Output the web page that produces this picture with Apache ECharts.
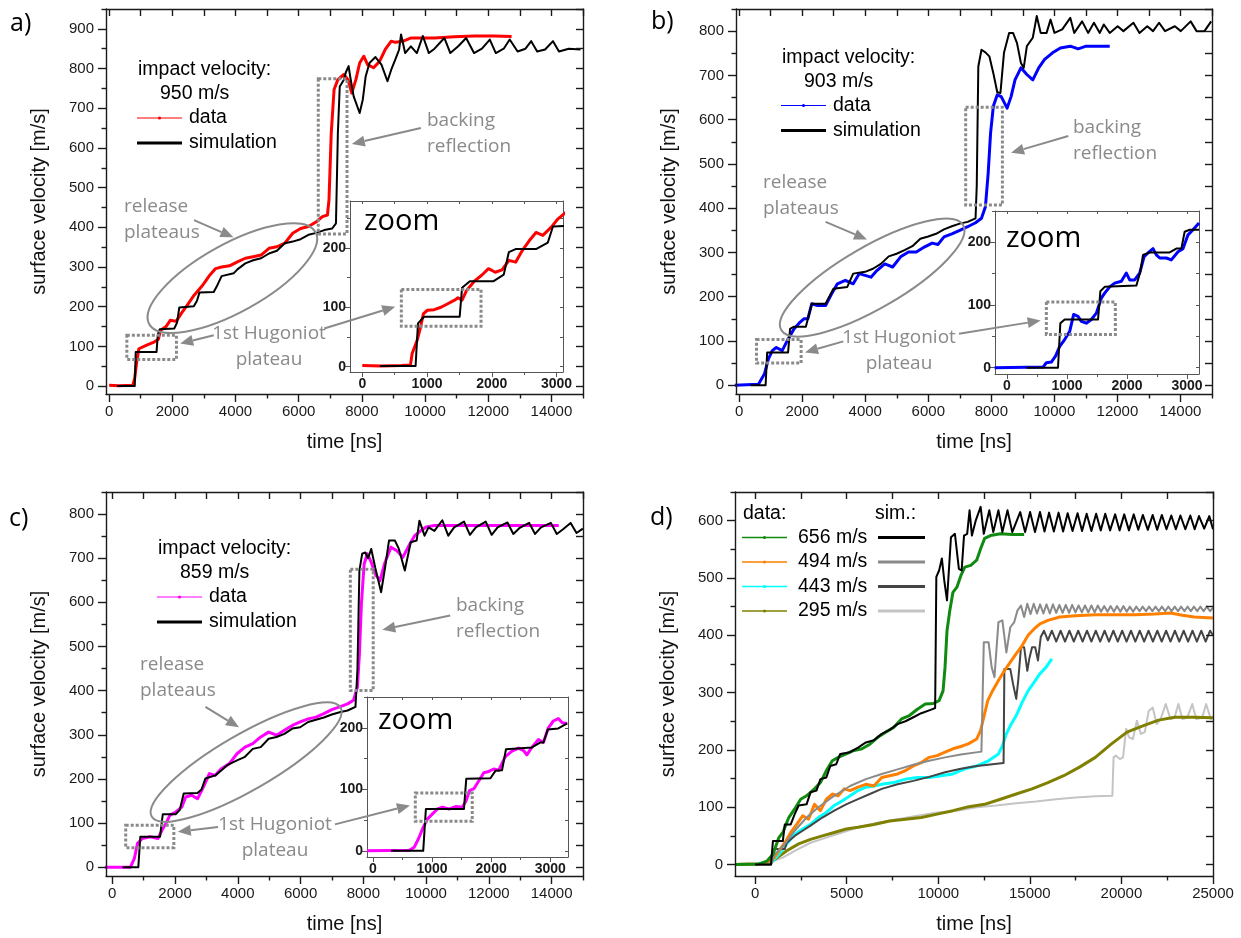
<!DOCTYPE html>
<html>
<head>
<meta charset="utf-8">
<script src="https://cdn.jsdelivr.net/npm/echarts@6.0.0/dist/echarts.min.js"></script>
<style>
  html, body { margin: 0; padding: 0; background: #fff; }
  #chart { width: 1241px; height: 938px; }
</style>
</head>
<body>
<div id="chart"></div>
<script>
// ---- tick values ----
var xMaj14 = [0, 2000, 4000, 6000, 8000, 10000, 12000, 14000];
var xMin14 = [1000, 3000, 5000, 7000, 9000, 11000, 13000, 15000];
var yMaj900 = [0, 100, 200, 300, 400, 500, 600, 700, 800, 900];
var yMin900 = [50, 150, 250, 350, 450, 550, 650, 750, 850, 950];
var yMaj800 = [0, 100, 200, 300, 400, 500, 600, 700, 800];
var yMin800 = [50, 150, 250, 350, 450, 550, 650, 750, 850];
var xMaj25 = [0, 5000, 10000, 15000, 20000, 25000];
var xMin25 = [2500, 7500, 12500, 17500, 22500];
var yMaj600 = [0, 100, 200, 300, 400, 500, 600];
var yMin600 = [50, 150, 250, 350, 450, 550, 650];
var xMajZoom = [0, 1000, 2000, 3000];
var xMinZoom = [500, 1500, 2500];
var yMajZoom = [0, 100, 200];
var yMinZoom = [50, 150, 250];

// ---- panel a: 950 m/s ----
var aData = [[0,2],[300,1],[750,2],[810,20],[870,60],[940,94],[1000,96],[1190,103],[1400,110],[1560,118],[1620,140],[1800,150],[1940,166],[2120,163],[2300,185],[2440,200],[2690,229],[2940,252],[3190,280],[3370,296],[3560,300],[3810,303],[4060,313],[4310,322],[4560,326],[4810,330],[5060,347],[5310,351],[5560,360],[5810,385],[6060,397],[6310,402],[6560,414],[6750,427],[6910,431],[6960,470],[7030,637],[7120,747],[7240,772],[7430,785],[7560,772],[7680,738],[7810,772],[7930,814],[8060,831],[8180,810],[8370,802],[8560,818],[8740,848],[8930,869],[9060,866],[9310,869],[9560,877],[10300,877],[10930,880],[11550,882],[12180,882],[12740,881]];
var aSim = [[250,0],[810,0],[840,86],[1500,86],[1540,130],[1600,143],[2060,145],[2150,160],[2220,198],[2680,201],[2780,215],[2860,236],[3310,237],[3400,250],[3560,277],[3940,284],[4060,294],[4310,309],[4560,317],[4810,322],[5060,334],[5310,341],[5560,360],[5810,364],[6060,370],[6310,381],[6560,386],[6810,393],[7060,397],[7180,410],[7240,637],[7300,755],[7430,772],[7490,790],[7580,806],[7630,780],[7740,730],[7930,688],[8030,722],[8120,780],[8240,814],[8430,829],[8620,810],[8810,768],[8930,797],[9060,823],[9180,848],[9240,886],[9370,839],[9550,856],[9740,839],[9930,882],[10120,839],[10300,850],[10610,877],[10800,839],[11050,856],[11300,877],[11550,839],[11800,850],[12050,873],[12240,839],[12490,850],[12680,873],[12930,843],[13180,850],[13360,869],[13550,843],[13800,848],[14050,869],[14240,843],[14550,850],[14920,848]];
var aZoomData = [[0,2],[300,1],[600,2],[744,3],[770,22],[849,45],[901,67],[943,89],[1006,95],[1111,96],[1216,100],[1320,106],[1425,112],[1478,116],[1541,112],[1609,128],[1740,145],[1844,154],[1949,165],[2054,159],[2159,163],[2264,179],[2368,176],[2473,196],[2578,212],[2683,226],[2788,221],[2919,235],[3023,249],[3144,260]];
var aZoomSim = [[272,1],[823,1],[860,73],[954,84],[1504,84],[1541,133],[1661,144],[2028,144],[2185,155],[2264,193],[2368,198],[2683,198],[2866,209],[2945,236],[3144,237]];

// ---- panel b: 903 m/s ----
var bData = [[-138,0],[613,2],[801,25],[926,59],[1052,78],[1177,85],[1365,78],[1552,104],[1740,127],[1928,142],[2053,150],[2178,150],[2304,184],[2491,180],[2742,180],[2930,206],[3117,229],[3368,237],[3618,229],[3806,252],[3994,248],[4182,244],[4369,259],[4620,274],[4870,267],[5121,290],[5371,301],[5621,301],[5872,312],[6122,321],[6310,318],[6498,335],[6748,342],[6999,350],[7249,358],[7499,367],[7687,377],[7812,403],[7900,479],[7975,569],[8063,630],[8188,656],[8313,652],[8501,626],[8626,652],[8751,690],[8939,717],[9127,702],[9315,690],[9503,717],[9690,736],[9941,751],[10191,762],[10504,766],[10755,760],[11005,766],[11381,766],[11756,766]];
var bSim = [[363,0],[839,0],[889,74],[1552,74],[1615,127],[1740,132],[2116,132],[2304,184],[2742,184],[2992,218],[3430,222],[3618,252],[3994,256],[4244,263],[4495,274],[4745,291],[4995,297],[5246,305],[5496,314],[5747,331],[5997,336],[6247,342],[6498,352],[6748,359],[6999,365],[7249,369],[7499,377],[7537,450],[7587,720],[7687,758],[7812,752],[7937,743],[8063,705],[8188,662],[8288,660],[8401,751],[8564,796],[8689,796],[8814,773],[8939,728],[9027,717],[9127,766],[9315,785],[9440,834],[9565,796],[9753,796],[9878,826],[10003,796],[10250,804],[10504,830],[10630,796],[10880,822],[11070,796],[11255,819],[11440,796],[11568,815],[11756,796],[12007,811],[12190,800],[12507,819],[12700,796],[12946,811],[13130,800],[13321,819],[13510,800],[13822,811],[14010,800],[14323,822],[14510,800],[14760,800],[14974,822]];
var bZoomData = [[-206,0],[600,1],[656,8],[739,9],[811,19],[878,34],[961,45],[1045,58],[1111,85],[1183,82],[1239,74],[1322,71],[1406,77],[1489,87],[1572,111],[1628,119],[1711,129],[1795,135],[1906,138],[1989,151],[2045,140],[2128,140],[2211,151],[2284,177],[2350,183],[2434,190],[2489,180],[2545,175],[2656,175],[2739,172],[2850,185],[2934,190],[3017,212],[3100,220],[3200,231]];
var bZoomSim = [[322,0],[850,0],[889,71],[961,77],[1517,77],[1556,122],[1628,129],[2156,131],[2222,153],[2267,180],[2378,184],[2711,184],[2822,190],[2906,190],[2961,217],[3045,220],[3200,220]];

// ---- panel c: 859 m/s ----
var cData = [[-239,0],[579,0],[704,20],[805,54],[956,65],[1208,69],[1459,65],[1585,84],[1711,99],[1837,118],[2025,125],[2214,136],[2340,159],[2529,163],[2717,155],[2906,182],[3095,212],[3283,208],[3472,223],[3724,234],[3975,257],[4227,272],[4478,280],[4730,295],[4982,306],[5233,299],[5485,310],[5736,321],[5988,329],[6240,336],[6491,340],[6743,348],[6994,357],[7246,363],[7498,370],[7686,378],[7812,408],[7875,483],[7938,596],[8026,687],[8127,710],[8252,691],[8378,664],[8529,649],[8693,691],[8881,725],[9070,717],[9259,702],[9448,728],[9636,751],[9825,762],[10014,771],[10265,774],[10894,774],[11523,774],[12152,774],[12781,774],[13410,774],[14228,774]];
var cSim = [[327,0],[830,0],[893,69],[1522,69],[1610,120],[2025,120],[2151,130],[2277,167],[2717,168],[2843,176],[2969,201],[3283,208],[3472,219],[3661,231],[3975,242],[4227,250],[4478,268],[4730,272],[4982,291],[5233,295],[5485,302],[5736,314],[5988,317],[6240,329],[6491,334],[6743,339],[6994,346],[7246,351],[7498,355],[7749,363],[7812,446],[7875,672],[7963,710],[8064,713],[8152,700],[8252,721],[8378,679],[8567,623],[8693,679],[8818,740],[9007,740],[9133,721],[9322,672],[9510,736],[9699,740],[9787,785],[9951,751],[10077,770],[10265,762],[10517,786],[10706,751],[10894,770],[11209,783],[11397,753],[11586,770],[11901,783],[12089,753],[12278,770],[12593,781],[12781,755],[12970,768],[13284,780],[13473,755],[13662,770],[13976,780],[14165,755],[14354,765],[14606,780],[14794,757],[14995,767]];
var cZoomData = [[-100,0],[616,1],[700,6],[773,20],[840,36],[924,52],[1008,60],[1092,68],[1176,71],[1288,68],[1400,72],[1512,71],[1579,82],[1635,98],[1708,101],[1792,114],[1876,127],[1960,129],[2044,133],[2128,131],[2240,153],[2352,162],[2464,167],[2548,163],[2604,156],[2688,168],[2800,181],[2884,176],[2968,200],[3052,211],[3136,215],[3203,208],[3287,207]];
var cZoomSim = [[308,0],[851,0],[896,68],[1540,68],[1579,117],[1988,118],[2072,130],[2184,131],[2251,165],[2688,168],[2828,176],[2884,176],[2957,197],[3136,199],[3287,207]];

// ---- panel d ----
var d656Data = [[-1080,0],[216,1],[648,6],[972,18],[1296,47],[1512,56],[1836,82],[2160,97],[2484,114],[2808,120],[3240,132],[3564,143],[3888,164],[4212,181],[4536,187],[4968,193],[5400,199],[5832,202],[6264,210],[6696,222],[7128,231],[7560,239],[7992,254],[8424,260],[8856,271],[9288,280],[9720,281],[10044,286],[10260,303],[10368,344],[10476,408],[10627,443],[10800,475],[11016,484],[11232,504],[11448,519],[11772,522],[12096,531],[12312,551],[12528,569],[12852,574],[13392,577],[14040,576],[14688,576]];
var d656Sim = [[0,0],[864,0],[972,41],[1512,41],[1620,70],[1944,70],[2160,88],[2376,103],[2808,105],[3024,126],[3348,129],[3564,149],[3888,152],[4104,172],[4428,175],[4644,193],[5184,196],[5616,204],[6048,213],[6480,217],[6912,228],[7344,235],[7776,245],[8208,250],[8640,257],[9072,264],[9504,269],[9828,273],[9893,502],[10044,513],[10195,534],[10325,496],[10476,461],[10692,571],[10908,577],[11124,516],[11275,513],[11405,574],[11578,577],[11707,618],[11837,574],[12053,601],[12312,624],[12485,577],[12787,618],[13003,580],[13284,618],[13500,580],[13781,618],[14040,580],[14472,615],[14740,580],[15012,615],[15280,580],[15552,615],[15800,581],[16049,614],[16310,581],[16567,614],[16815,581],[17064,613],[17330,582],[17604,613],[17850,582],[18101,612],[18360,582],[18619,612],[18870,583],[19116,612],[19380,583],[19656,611],[19900,583],[20153,611],[20410,583],[20671,611],[20920,584],[21168,610],[21440,584],[21708,610],[21950,584],[22205,610],[22460,585],[22723,609],[22970,585],[23220,609],[23490,585],[23760,609],[24000,585],[24235,608],[24520,586],[24797,608],[25000,585]];
var d494Data = [[-1080,0],[432,1],[972,9],[1296,24],[1620,38],[1944,56],[2268,70],[2592,85],[2916,79],[3240,105],[3564,94],[3888,114],[4212,123],[4536,120],[4860,132],[5184,129],[5616,135],[6048,140],[6480,137],[6912,152],[7344,155],[7776,158],[8208,164],[8640,172],[9072,178],[9504,187],[9936,190],[10368,196],[10800,202],[11232,206],[11664,211],[12096,219],[12312,234],[12485,257],[12701,286],[12960,303],[13284,321],[13608,338],[13932,353],[14256,368],[14580,382],[14904,400],[15228,411],[15552,420],[15984,426],[16632,432],[17496,434],[18576,436],[19656,436],[20736,436],[21816,437],[22680,439],[23328,435],[23976,432],[24990,430]];
var d494Sim = [[0,0],[864,0],[1080,18],[1620,36],[2160,59],[2808,82],[3456,100],[4320,120],[5184,137],[6048,149],[6912,158],[7776,166],[8640,174],[9504,181],[10368,187],[11232,192],[12355,197],[12485,388],[12744,388],[12917,344],[13068,327],[13284,423],[13500,426],[13716,370],[13932,414],[14148,423],[14321,443],[14515,452],[14688,432],[14860,455],[15040,437],[15210,455],[15390,438],[15560,454],[15740,438],[15910,454],[16090,438],[16260,454],[16440,439],[16610,453],[16790,439],[16960,453],[17140,439],[17310,453],[17490,440],[17660,452],[17840,440],[18010,452],[18190,440],[18360,452],[18540,440],[18710,452],[18890,441],[19060,451],[19240,441],[19410,451],[19590,441],[19760,451],[19940,441],[20110,451],[20290,441],[20460,450],[20640,441],[20810,450],[20990,442],[21160,450],[21340,442],[21510,450],[21690,442],[21860,450],[22040,442],[22210,450],[22390,442],[22560,450],[22740,442],[22910,450],[23090,442],[23260,450],[23440,442],[23610,450],[23790,442],[23960,450],[24140,442],[24310,450],[24490,442],[24660,450],[24840,442],[25000,448]];
var d443Data = [[-1080,0],[0,0],[972,6],[1296,18],[1728,36],[2160,53],[2592,62],[3024,70],[3456,82],[3888,91],[4320,103],[4752,111],[5184,120],[5616,129],[6048,135],[6480,137],[6912,140],[7560,143],[8208,149],[8856,152],[9504,152],[10152,155],[10800,158],[11448,167],[12096,172],[12744,181],[13284,193],[13500,207],[13716,228],[13932,242],[14256,260],[14580,283],[14904,303],[15228,318],[15552,333],[15876,344],[16200,359]];
var d443Sim = [[0,0],[864,0],[972,9],[1037,27],[1620,27],[1728,38],[2160,50],[2592,59],[3024,68],[3672,82],[4320,94],[4968,105],[5616,114],[6264,123],[6912,132],[7776,140],[8640,146],[9504,153],[10368,161],[11232,167],[12096,172],[12960,175],[13565,177],[13608,341],[13932,341],[14083,315],[14256,289],[14364,321],[14515,379],[14688,379],[14861,338],[14969,359],[15120,379],[15293,379],[15444,356],[15595,397],[15768,408],[15984,391],[16200,408],[16440,389],[16680,408],[16920,389],[17160,408],[17400,389],[17640,408],[17880,389],[18120,408],[18360,389],[18600,408],[18840,389],[19080,408],[19320,389],[19560,408],[19800,389],[20040,408],[20280,389],[20520,408],[20760,389],[21000,408],[21240,389],[21480,408],[21720,389],[21960,408],[22200,389],[22440,408],[22680,389],[22920,408],[23160,389],[23400,408],[23640,389],[23880,408],[24120,389],[24360,408],[24600,389],[24840,408],[25000,400]];
var d295Data = [[-1080,0],[432,1],[1080,9],[1728,24],[2376,36],[3024,44],[3672,50],[4320,56],[4968,62],[5616,65],[6480,70],[7344,76],[8208,79],[9072,82],[9936,88],[10800,94],[11664,101],[12528,105],[13392,114],[14256,123],[15120,132],[15984,143],[16848,155],[17712,170],[18576,187],[19440,210],[20304,231],[21168,242],[22032,252],[22896,257],[23976,257],[24991,256]];
var d295Sim = [[0,0],[864,0],[972,6],[1512,12],[2160,24],[3024,38],[3888,47],[4752,56],[5616,65],[6696,73],[7776,79],[8856,85],[9936,91],[11016,94],[12096,100],[13176,103],[14256,107],[15336,110],[16416,114],[17496,117],[18576,119],[19505,120],[19570,187],[19699,190],[19915,184],[20088,187],[20261,237],[20412,222],[20628,219],[20844,251],[21060,228],[21276,231],[21492,268],[21708,274],[21924,245],[22140,254],[22421,280],[22680,254],[22896,256],[23112,280],[23328,254],[23587,256],[23868,280],[24084,254],[24408,256],[24624,280],[24883,254],[25000,258]];

var chart = echarts.init(document.getElementById('chart'));
var grids = [], xAxes = [], yAxes = [], series = [];
var GREY = '#8a8a8a';

function fmt(v) { return String(v); }

// one plot box: labelled bottom/left axes, minor ticks, mirrored top/right ticks
function panel(box, xr, yr, xMaj, xMin, yMaj, yMin, inset) {
    var g = grids.length;
    grids.push({left: box[0], top: box[1], width: box[2], height: box[3], show: inset,
        backgroundColor: '#fff', borderWidth: 0, z: inset ? 5 : 0});
    var z = inset ? 6 : 3;
    var lw = inset ? 1 : 1.4;
    var lc = inset ? '#555' : '#1a1a1a';
    var lab = {show: true, margin: inset ? 4 : 12, fontSize: inset ? 14 : 15,
        fontWeight: inset ? 'bold' : 'normal', fontFamily: 'Liberation Sans', color: '#1a1a1a', formatter: fmt};
    function mk(pos, r, ticks, len, inside, line, label, name, gap) {
        return {
            type: 'value', gridIndex: g, position: pos, min: r[0], max: r[1], z: z,
            axisLine: {show: line, onZero: false, lineStyle: {color: lc, width: lw}},
            axisTick: {show: true, inside: inside, length: len, customValues: ticks, lineStyle: {color: lc, width: lw}},
            axisLabel: label ? Object.assign({customValues: ticks}, lab, pos === 'bottom' ? {margin: inset ? 5 : 10} : {}) : {show: false},
            splitLine: {show: false},
            name: name || '', nameLocation: 'middle', nameGap: gap || 0,
            nameTextStyle: {fontSize: 20, fontFamily: 'Liberation Sans', color: '#111'}
        };
    }
    var xi = xAxes.length, yi = yAxes.length;
    var big = inset ? 5 : 8, small = inset ? 3 : 4.5, mir = inset ? 3 : 7;
    xAxes.push(mk('bottom', xr, xMaj, big, false, true, true, inset ? '' : 'time [ns]', 38));
    xAxes.push(mk('bottom', xr, xMin, small, false, false, false));
    xAxes.push(mk('top', xr, xMaj.concat(xMin), mir, true, true, false));
    yAxes.push(mk('left', yr, yMaj, big, false, true, true, inset ? '' : 'surface velocity [m/s]', 57));
    yAxes.push(mk('left', yr, yMin, small, false, false, false));
    yAxes.push(mk('right', yr, yMaj.concat(yMin), mir, true, true, false));
    return {g: g, xi: xi, yi: yi, inset: inset};
}

function line(p, data, color, width) {
    series.push({type: 'line', xAxisIndex: p.xi, yAxisIndex: p.yi, data: data,
        showSymbol: false, symbol: 'none', clip: true, silent: true,
        lineStyle: {color: color, width: width, join: 'round'}, itemStyle: {color: color},
        z: p.inset ? 7 : 2});
}

var pa = panel([106, 9, 477, 385], [-100, 15000], [-20, 950], xMaj14, xMin14, yMaj900, yMin900, false);
var pb = panel([736, 9, 476, 385], [-100, 15000], [-20, 850], xMaj14, xMin14, yMaj800, yMin800, false);
var pc = panel([106, 492, 477, 384], [-200, 15000], [-20, 850], xMaj14, xMin14, yMaj800, yMin800, false);
var pd = panel([735, 492, 478, 384], [-1100, 25000], [-20, 650], xMaj25, xMin25, yMaj600, yMin600, false);
var za = panel([350, 201, 213, 171], [-190, 3100], [-9, 279], xMajZoom, xMinZoom, yMajZoom, yMinZoom, true);
var zb = panel([995, 211, 204, 163], [-200, 3200], [-10, 250], xMajZoom, xMinZoom, yMajZoom, yMinZoom, true);
var zc = panel([367, 697, 201, 160], [-100, 3300], [-10, 250], xMajZoom, xMinZoom, yMajZoom, yMinZoom, true);

line(pa, aData, '#ff0000', 3); line(pa, aSim, '#000', 2);
line(pb, bData, '#0000ff', 3); line(pb, bSim, '#000', 2);
line(pc, cData, '#ff00ff', 3); line(pc, cSim, '#000', 2);
line(za, aZoomData, '#ff0000', 3); line(za, aZoomSim, '#000', 2);
line(zb, bZoomData, '#0000ff', 3); line(zb, bZoomSim, '#000', 2);
line(zc, cZoomData, '#ff00ff', 3); line(zc, cZoomSim, '#000', 2);
line(pd, d295Sim, '#c4c4c4', 2); line(pd, d295Data, '#808000', 3);
line(pd, d443Data, '#00ffff', 3); line(pd, d443Sim, '#444444', 2);
line(pd, d494Data, '#ff8000', 3); line(pd, d494Sim, '#8a8a8a', 2);
line(pd, d656Data, '#108a10', 3); line(pd, d656Sim, '#000', 2);

chart.setOption({animation: false, backgroundColor: '#fff', grid: grids, xAxis: xAxes, yAxis: yAxes, series: series});

// ---- annotations (anchored in data coordinates) ----
var notes = [
    {p: pa, z: za, ell: [3900, 272, 95, 34, 29],
     arrows: [[[2685, 418], [3934, 375]], [[9867, 650], [7681, 610]], [[3310, 128], [2248, 107]], [[6807, 145], [9055, 200]]],
     boxes: [[560, 67, 2130, 128], [6620, 383, 7530, 774]], zbox: [603, 68, 1834, 130]},
    {p: pb, z: zb, ell: [4220, 243, 105, 31, 30],
     arrows: [[[2742, 369], [4056, 329]], [[10442, 563], [8626, 525]], [[3305, 99], [2091, 74]], [[6974, 116], [9565, 146]]],
     boxes: [[551, 50, 1966, 103], [7186, 407, 8351, 628]], zbox: [656, 53, 1806, 105]},
    {p: pc, z: zc, ell: [4265, 238, 109, 28, 30],
     arrows: [[[2969, 363], [4038, 317]], [[10768, 570], [8605, 538]], [[3371, 91], [2088, 80]], [[7095, 97], [9485, 140]]],
     boxes: [[428, 44, 1962, 95], [7586, 400, 8315, 675]], zbox: [717, 48, 1680, 94]}
];

function px(p, pt) { return chart.convertToPixel({xAxisIndex: p.xi, yAxisIndex: p.yi}, pt); }

var els = [];
function arrow(a, b) {
    var dx = b[0] - a[0], dy = b[1] - a[1], L = Math.sqrt(dx * dx + dy * dy);
    var ux = dx / L, uy = dy / L, hl = 13, hw = 5.5;
    var bx = b[0] - ux * hl, by = b[1] - uy * hl;
    els.push({type: 'line', z: 20, silent: true, shape: {x1: a[0], y1: a[1], x2: bx, y2: by}, style: {stroke: GREY, lineWidth: 2}});
    els.push({type: 'polygon', z: 20, silent: true, shape: {points: [[b[0], b[1]], [bx - uy * hw, by + ux * hw], [bx + uy * hw, by - ux * hw]]}, style: {fill: GREY}});
}
function dotted(p, r) {
    var p1 = px(p, [r[0], r[3]]), p2 = px(p, [r[2], r[1]]);
    els.push({type: 'rect', z: 20, silent: true, shape: {x: p1[0], y: p1[1], width: p2[0] - p1[0], height: p2[1] - p1[1]},
        style: {fill: 'none', stroke: GREY, lineWidth: 3, lineDash: [3, 2]}});
}
function text(t, x, y, size, family, color, align) {
    els.push({type: 'text', z: 21, silent: true, x: x, y: y,
        style: {text: t, fontSize: size, fontFamily: family, fill: color, align: align || 'left', verticalAlign: 'middle'}});
}
function seg(x1, x2, y, color, w, dot) {
    els.push({type: 'line', z: 21, silent: true, shape: {x1: x1, y1: y, x2: x2, y2: y}, style: {stroke: color, lineWidth: w}});
    if (dot) els.push({type: 'circle', z: 21, silent: true, shape: {cx: (x1 + x2) / 2, cy: y, r: 1.6}, style: {fill: color}});
}

notes.forEach(function (n) {
    var c = px(n.p, [n.ell[0], n.ell[1]]);
    els.push({type: 'ellipse', z: 19, silent: true, x: c[0], y: c[1], rotation: n.ell[4] * Math.PI / 180,
        shape: {cx: 0, cy: 0, rx: n.ell[2], ry: n.ell[3]}, style: {fill: 'none', stroke: GREY, lineWidth: 2}});
    n.boxes.forEach(function (r) { dotted(n.p, r); });
    dotted(n.z, n.zbox);
    n.arrows.forEach(function (ar) { arrow(px(n.p, ar[0]), px(n.p, ar[1])); });
});

var OS = '"Open Sans", sans-serif', LS = '"Liberation Sans", Arial, sans-serif';
// panel letters
text('a)', 10, 24, 25, OS, '#000'); text('b)', 651, 22, 25, OS, '#000');
text('c)', 9, 519, 25, OS, '#000'); text('d)', 650, 518, 25, OS, '#000');
// zoom labels
text('zoom', 364, 222, 29, OS, '#000'); text('zoom', 1006, 239, 29, OS, '#000'); text('zoom', 378, 721, 29, OS, '#000');
// grey callouts
[[124, 207, 427, 121, 269, 334], [763, 183, 1073, 128, 899, 338], [140, 665, 456, 606, 275, 825]].forEach(function (q) {
    text('release', q[0], q[1], 19, OS, GREY); text('plateaus', q[0], q[1] + 25.5, 19, OS, GREY);
    text('backing', q[2], q[3], 19, OS, GREY); text('reflection', q[2], q[3] + 26, 19, OS, GREY);
    text('1st Hugoniot', q[4], q[5], 19, OS, GREY, 'center'); text('plateau', q[4], q[5] + 26, 19, OS, GREY, 'center');
});
// legends a-c
[[138, 70, '950 m/s', '#ff0000'], [782, 57.5, '903 m/s', '#0000ff'], [158, 549, '859 m/s', '#ff00ff']].forEach(function (q) {
    text('impact velocity:', q[0], q[1], 19.5, LS, '#000');
    text(q[2], q[0] + 22, q[1] + 24, 19.5, LS, '#000');
    seg(q[0] - 1, q[0] + 44, q[1] + 48, q[3], 1.2, true);
    text('data', q[0] + 51, q[1] + 48, 19.5, LS, '#000');
    seg(q[0] - 1, q[0] + 44, q[1] + 73, '#000', 3, false);
    text('simulation', q[0] + 51, q[1] + 73, 19.5, LS, '#000');
});
// legend d
text('data:', 743, 514, 19.5, LS, '#000'); text('sim.:', 875, 514, 19.5, LS, '#000');
[['656 m/s', '#108a10', '#000', 537.5], ['494 m/s', '#ff8000', '#8a8a8a', 562], ['443 m/s', '#00ffff', '#444444', 586.5], ['295 m/s', '#808000', '#c4c4c4', 611]].forEach(function (q) {
    seg(742, 787, q[3], q[1], 1.4, true);
    text(q[0], 798, q[3], 19.5, LS, '#000');
    seg(878, 925, q[3], q[2], 3, false);
});

chart.setOption({graphic: {elements: els}});
</script>
</body>
</html>
